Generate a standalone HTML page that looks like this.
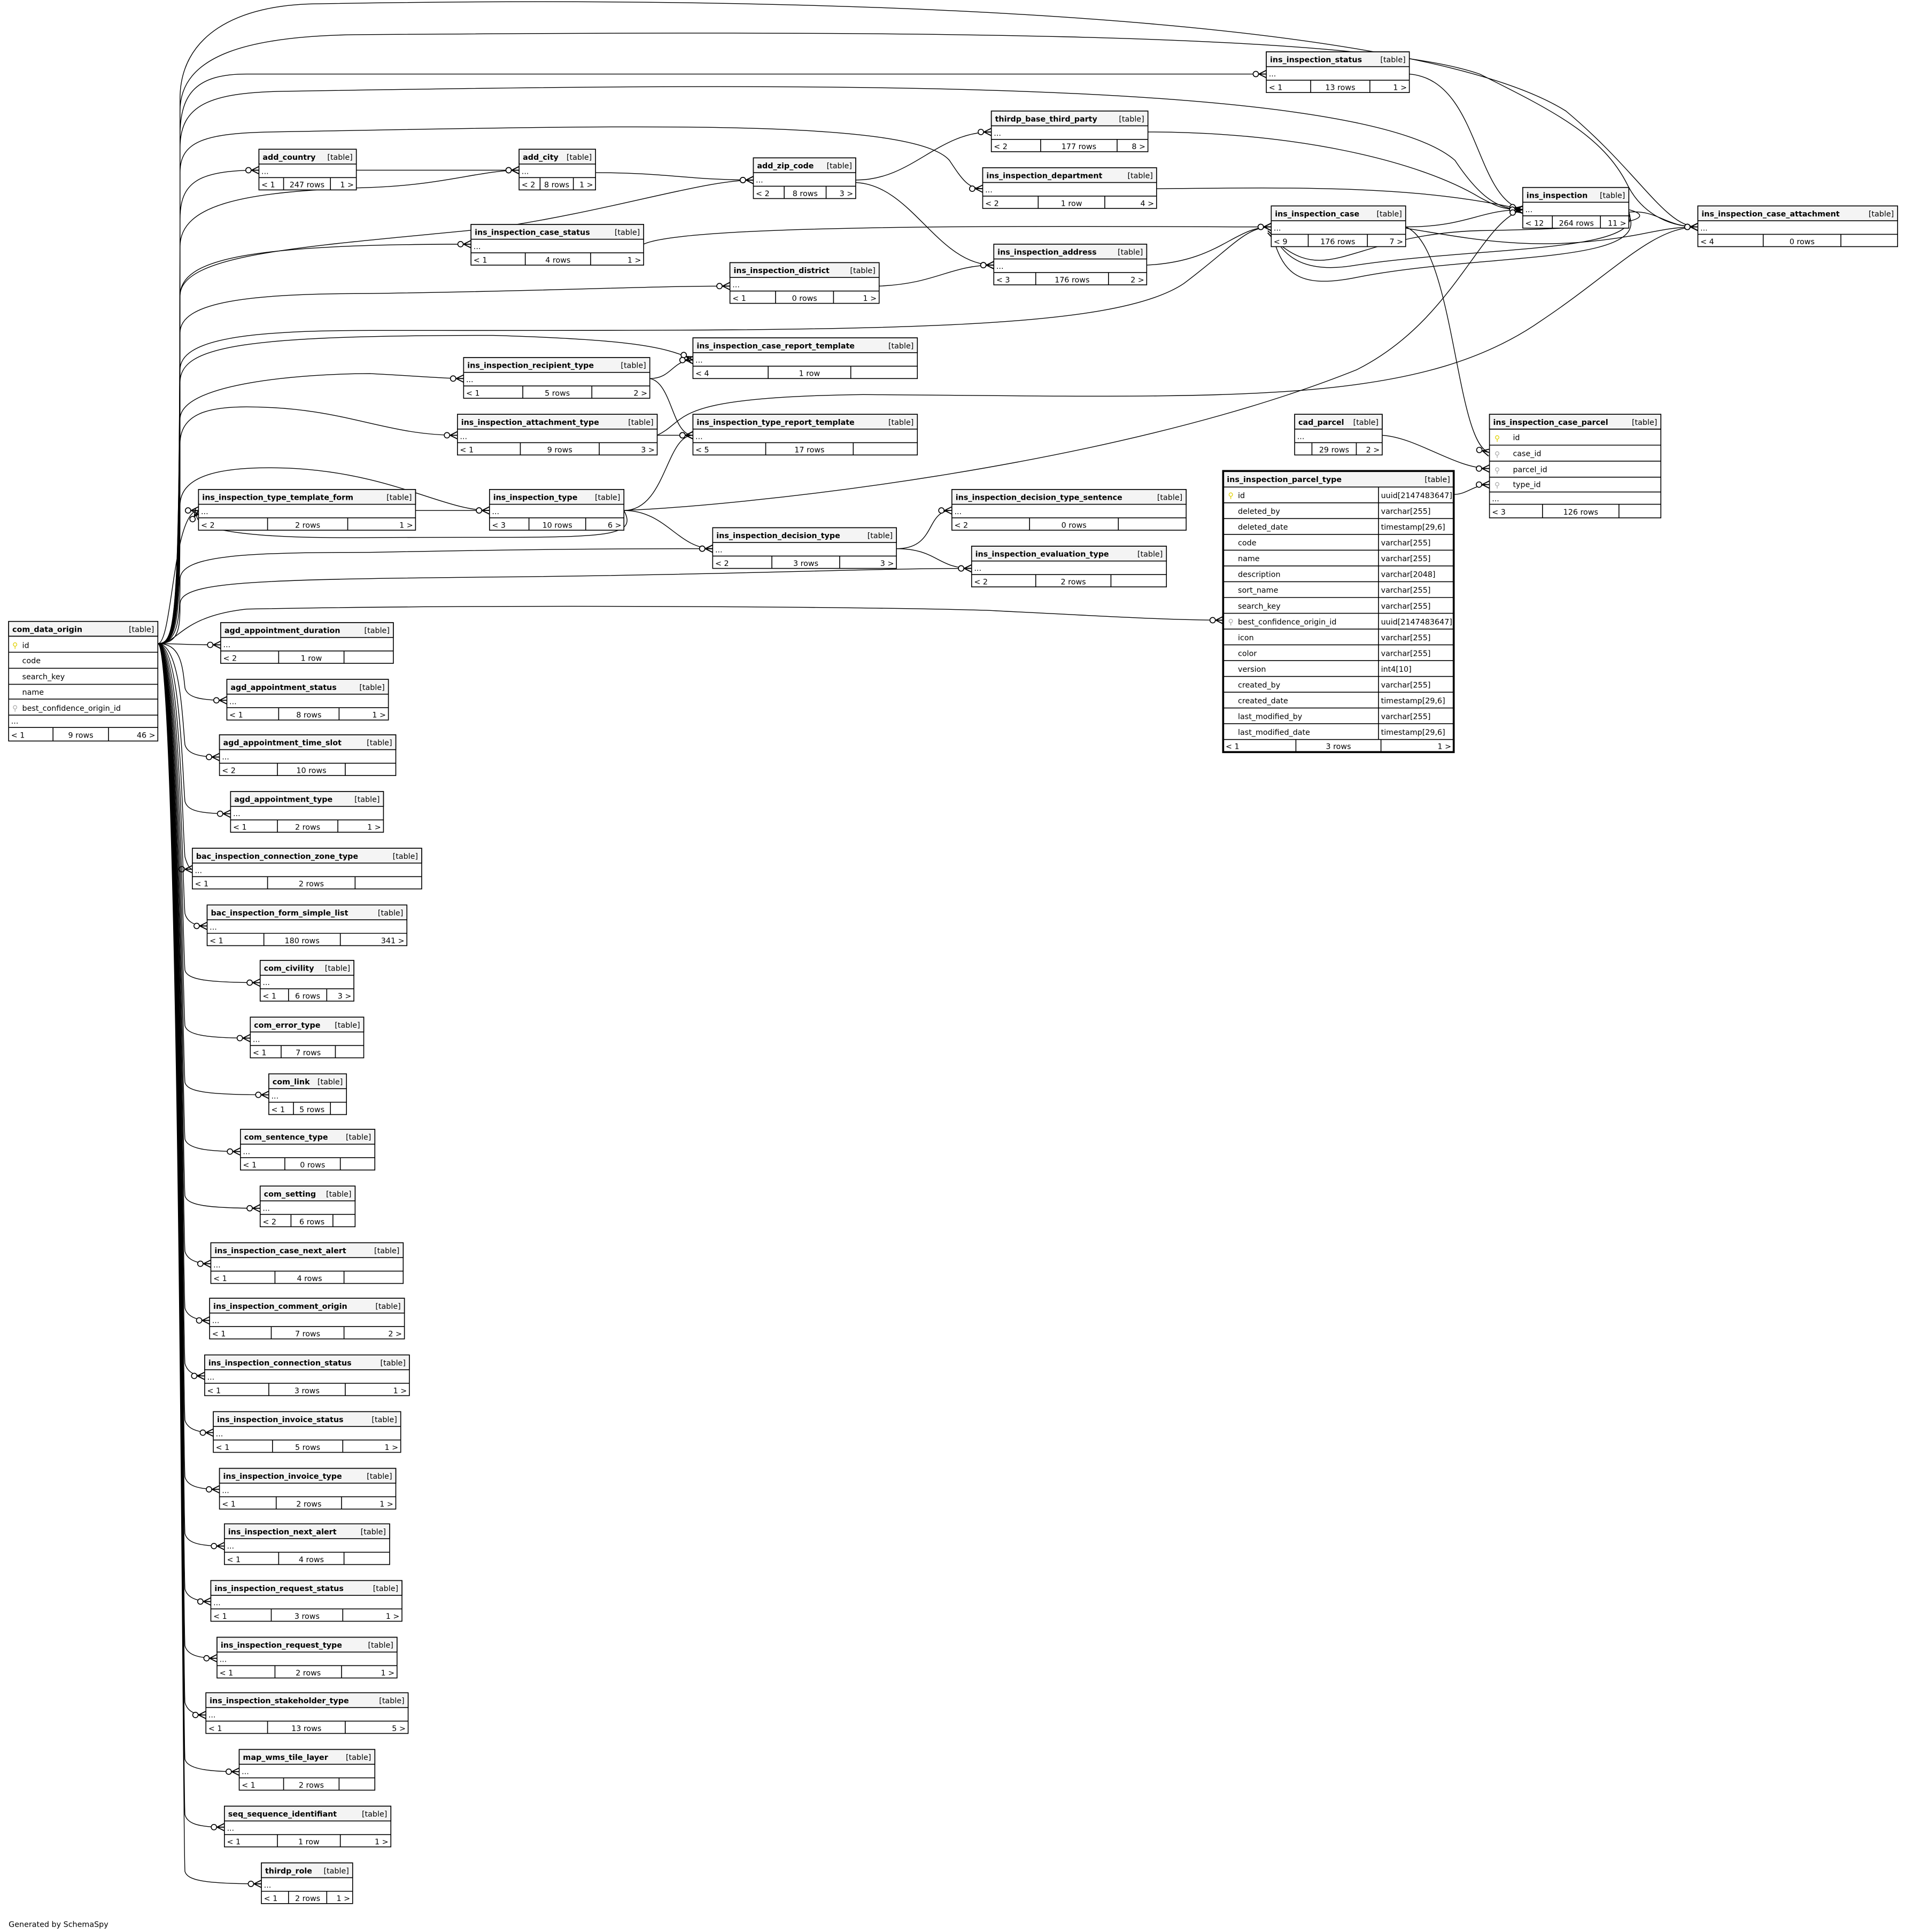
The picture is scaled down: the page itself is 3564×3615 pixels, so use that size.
<!DOCTYPE html>
<html><head><meta charset="utf-8"><style>
html,body{margin:0;padding:0;background:#fff}
svg{display:block}
text{font-family:"DejaVu Sans","Liberation Sans",sans-serif;font-size:6.2px;fill:#000}
.t{font-weight:bold}
.r{text-anchor:end}
.m{text-anchor:middle}
rect{fill:#fff;stroke:#000;stroke-width:.7}
rect.h{fill:#f4f4f4}
line{stroke:#000;stroke-width:.7}
path.e{fill:none;stroke:#000;stroke-width:.6;marker-end:url(#cf)}
</style></head><body>
<svg xmlns="http://www.w3.org/2000/svg" width="3564" height="3615" viewBox="0 0 1545 1567">
<defs>
<marker id="cf" markerUnits="userSpaceOnUse" markerWidth="14" markerHeight="10" viewBox="-12 -5 14 10" refX="0" refY="0" orient="auto" overflow="visible">
<circle cx="-8.5" cy="0" r="2.2" fill="#fff" stroke="#000" stroke-width=".7"/>
<path d="M-6 0L0 -3M-6 0L0 3M-6 0L0 0" stroke="#000" stroke-width=".8" fill="none"/>
</marker>
</defs>

<!-- edges from com_data_origin -->
<g>
<path class="e" d="M128 522C146 522 146 523 179 523"/>
<path class="e" d="M128 522C146 522 148 538 150 558C152 565 160 568 184 568"/>
<path class="e" d="M128 522C146 522 148 584 150 604C152 611 160 614 178 614"/>
<path class="e" d="M128 522C146 522 148 630 150 650C152 657 160 660 187 660"/>
<path class="e" d="M128 522C146 522 148 675 150 695C152 702 154 705 156 705"/>
<path class="e" d="M128 522C146 522 148 721 150 741C152 748 158 751 168 751"/>
<path class="e" d="M128 522C146 522 148 767 150 787C152 794 165 797 211 797"/>
<path class="e" d="M128 522C146 522 148 812 150 832C152 839 165 842 203 842"/>
<path class="e" d="M128 522C146 522 148 858 150 878C152 885 165 888 218 888"/>
<path class="e" d="M128 522C146 522 148 904 150 924C152 931 165 934 195 934"/>
<path class="e" d="M128 522C146 522 148 950 150 970C152 977 165 980 211 980"/>
<path class="e" d="M128 522C146 522 148 995 150 1015C152 1022 160 1025 171 1025"/>
<path class="e" d="M128 522C146 522 148 1041 150 1061C152 1068 160 1071 170 1071"/>
<path class="e" d="M128 522C146 522 148 1086 150 1106C152 1113 158 1116 166 1116"/>
<path class="e" d="M128 522C146 522 148 1132 150 1152C152 1159 160 1162 173 1162"/>
<path class="e" d="M128 522C146 522 148 1178 150 1198C152 1205 160 1208 178 1208"/>
<path class="e" d="M128 522C146 522 148 1224 150 1244C152 1251 160 1254 182 1254"/>
<path class="e" d="M128 522C146 522 148 1269 150 1289C152 1296 160 1299 171 1299"/>
<path class="e" d="M128 522C146 522 148 1315 150 1335C152 1342 160 1345 176 1345"/>
<path class="e" d="M128 522C146 522 148 1361 150 1381C152 1388 158 1391 167 1391"/>
<path class="e" d="M128 522C146 522 148 1407 150 1427C152 1434 165 1437 194 1437"/>
<path class="e" d="M128 522C146 522 148 1452 150 1472C152 1479 160 1482 182 1482"/>
<path class="e" d="M128 522C146 522 148 1498 150 1518C152 1525 165 1528 212 1528"/>
<!-- upward -->
<path class="e" d="M128 522C145 522 146 500 146 178C146 148 160 138 210 138"/>
<path class="e" d="M128 522C145 522 146 500 146 200C146 165 200 155 300 152C360 150 390 138 421 138"/>
<path class="e" d="M128 522C145 522 146 500 146 240C146 205 250 200 400 185C500 170 570 146 611 146"/>
<path class="e" d="M128 522C145 522 146 500 146 110C146 75 160 60 200 60L1027 60"/>
<path class="e" d="M128 522C145 522 146 500 146 140C146 115 165 108 220 107C500 102 740 95 770 130C780 145 785 153 797 153"/>
<path class="e" d="M128 522C145 522 146 500 146 120C146 85 170 75 230 74C600 68 1100 60 1180 130C1200 160 1215 170 1235 170"/>
<path class="e" d="M128 522C145 522 146 500 146 90C146 45 200 28 300 28C700 25 1100 25 1200 60C1260 90 1300 110 1320 150C1330 170 1350 184 1377 184"/>
<path class="e" d="M128 522C145 522 146 500 146 80C146 30 190 3 260 3C700 -5 1150 15 1270 90C1330 140 1350 184 1377 184"/>
<path class="e" d="M128 522C145 522 146 500 146 240C146 210 200 198 382 198"/>
<path class="e" d="M128 522C145 522 146 500 146 270C146 245 200 238 300 238C450 236 520 232 592 232"/>
<path class="e" d="M128 522C145 522 146 500 146 300C146 275 200 268 300 268C700 268 900 270 960 230C1000 200 1010 184 1031 184"/>
<path class="e" d="M128 522C145 522 146 500 146 310C146 280 200 272 400 272C500 275 540 280 562 292"/>
<path class="e" d="M128 522C145 522 146 500 146 340C146 310 250 303 300 303C340 305 360 307 376 307"/>
<path class="e" d="M128 522C145 522 146 500 146 360C146 335 170 330 200 330C280 330 310 353 371 353"/>
<path class="e" d="M128 522C140 522 140 414 161 414"/>
<path class="e" d="M128 522C145 522 146 500 146 410C146 385 180 377 240 380C320 385 360 414 397 414"/>
<path class="e" d="M128 522C145 522 146 500 146 470C146 450 200 448 300 448C450 445 520 445 578 445"/>
<path class="e" d="M128 522C145 522 146 510 146 490C146 472 200 470 400 468C600 466 700 461 788 461"/>
<path class="e" d="M128 522C145 522 146 500 200 494C400 490 700 492 800 495C900 500 950 503 992 503"/>
</g>

<!-- other edges -->
<g>
<path class="e" d="M289 138L421 138"/>
<path class="e" d="M483 140C540 140 560 146 611 146"/>
<path class="e" d="M694 146C740 146 760 107 804 107"/>
<path class="e" d="M694 148C740 150 760 215 806 215"/>
<path class="e" d="M931 107C1050 107 1150 130 1200 160C1215 168 1220 170 1235 170"/>
<path class="e" d="M938 153C1050 152 1150 150 1235 170"/>
<path class="e" d="M1143 60C1200 65 1195 160 1235 170"/>
<path class="e" d="M522 198C560 180 900 184 1031 184"/>
<path class="e" d="M930 215C990 212 1000 184 1031 184"/>
<path class="e" d="M713 232C760 230 770 215 806 215"/>
<path class="e" d="M1140 184C1190 184 1200 170 1235 170"/>
<path class="e" d="M1321 170C1340 175 1340 185 1200 187C1100 190 1080 230 1040 200C1035 195 1032 186 1031 186"/>
<path class="e" d="M1321 172C1335 205 1200 200 1100 215C1060 222 1040 210 1031 186"/>
<path class="e" d="M1321 174C1340 215 1200 205 1100 225C1050 235 1040 220 1031 188"/>
<path class="e" d="M1140 185C1200 195 1250 205 1330 190C1350 186 1360 184 1377 184"/>
<path class="e" d="M1321 172C1345 170 1350 184 1377 184"/>
<path class="e" d="M1140 184C1180 200 1180 360 1208 367"/>
<path class="e" d="M1121 353C1150 355 1180 380 1208 380"/>
<path class="e" d="M1179 401C1190 401 1195 393 1208 393"/>
<path class="e" d="M527 307C545 307 545 292 562 292"/>
<path class="e" d="M527 307C545 310 545 353 562 353"/>
<path class="e" d="M533 353L562 353"/>
<path class="e" d="M533 353C560 340 540 322 700 320C1000 322 1150 330 1250 260C1310 220 1340 184 1377 184"/>
<path class="e" d="M506 414C540 414 540 353 562 353"/>
<path class="e" d="M506 414C540 414 550 445 578 445"/>
<path class="e" d="M506 414C600 410 900 380 1100 300C1180 260 1200 180 1235 170"/>
<path class="e" d="M506 414C520 440 480 435 300 436C200 437 150 430 161 414"/>
<path class="e" d="M337 414L397 414"/>
<path class="e" d="M727 445C760 445 750 414 772 414"/>
<path class="e" d="M727 445C760 445 760 461 788 461"/>
</g>

<!-- tables -->
<g transform="translate(1027,42)"><rect width="116" height="33"/><rect class="h" width="116" height="12"/><line x1="0" y1="23" x2="116" y2="23"/><text class="t" x="3" y="8.5">ins_inspection_status</text><text class="r" x="113" y="8.5">[table]</text><text x="2" y="20">...</text><line x1="36" y1="23" x2="36" y2="33"/><line x1="84" y1="23" x2="84" y2="33"/><text x="2" y="31">&lt; 1</text><text class="m" x="60" y="31">13 rows</text><text class="r" x="114" y="31">1 &gt;</text></g>

<g transform="translate(804,90)"><rect width="127" height="33"/><rect class="h" width="127" height="12"/><line x1="0" y1="23" x2="127" y2="23"/><text class="t" x="3" y="8.5">thirdp_base_third_party</text><text class="r" x="124" y="8.5">[table]</text><text x="2" y="20">...</text><line x1="40" y1="23" x2="40" y2="33"/><line x1="102" y1="23" x2="102" y2="33"/><text x="2" y="31">&lt; 2</text><text class="m" x="71" y="31">177 rows</text><text class="r" x="125" y="31">8 &gt;</text></g>

<g transform="translate(210,121)"><rect width="79" height="33"/><rect class="h" width="79" height="12"/><line x1="0" y1="23" x2="79" y2="23"/><text class="t" x="3" y="8.5">add_country</text><text class="r" x="76" y="8.5">[table]</text><text x="2" y="20">...</text><line x1="20" y1="23" x2="20" y2="33"/><line x1="58" y1="23" x2="58" y2="33"/><text x="2" y="31">&lt; 1</text><text class="m" x="39" y="31">247 rows</text><text class="r" x="77" y="31">1 &gt;</text></g>

<g transform="translate(421,121)"><rect width="62" height="33"/><rect class="h" width="62" height="12"/><line x1="0" y1="23" x2="62" y2="23"/><text class="t" x="3" y="8.5">add_city</text><text class="r" x="59" y="8.5">[table]</text><text x="2" y="20">...</text><line x1="17" y1="23" x2="17" y2="33"/><line x1="44" y1="23" x2="44" y2="33"/><text x="2" y="31">&lt; 2</text><text class="m" x="30.5" y="31">8 rows</text><text class="r" x="60" y="31">1 &gt;</text></g>

<g transform="translate(611,128)"><rect width="83" height="33"/><rect class="h" width="83" height="12"/><line x1="0" y1="23" x2="83" y2="23"/><text class="t" x="3" y="8.5">add_zip_code</text><text class="r" x="80" y="8.5">[table]</text><text x="2" y="20">...</text><line x1="25" y1="23" x2="25" y2="33"/><line x1="59" y1="23" x2="59" y2="33"/><text x="2" y="31">&lt; 2</text><text class="m" x="42" y="31">8 rows</text><text class="r" x="81" y="31">3 &gt;</text></g>

<g transform="translate(797,136)"><rect width="141" height="33"/><rect class="h" width="141" height="12"/><line x1="0" y1="23" x2="141" y2="23"/><text class="t" x="3" y="8.5">ins_inspection_department</text><text class="r" x="138" y="8.5">[table]</text><text x="2" y="20">...</text><line x1="45" y1="23" x2="45" y2="33"/><line x1="99" y1="23" x2="99" y2="33"/><text x="2" y="31">&lt; 2</text><text class="m" x="72" y="31">1 row</text><text class="r" x="139" y="31">4 &gt;</text></g>

<g transform="translate(1235,152)"><rect width="86" height="33"/><rect class="h" width="86" height="12"/><line x1="0" y1="23" x2="86" y2="23"/><text class="t" x="3" y="8.5">ins_inspection</text><text class="r" x="83" y="8.5">[table]</text><text x="2" y="20">...</text><line x1="24" y1="23" x2="24" y2="33"/><line x1="63" y1="23" x2="63" y2="33"/><text x="2" y="31">&lt; 12</text><text class="m" x="43.5" y="31">264 rows</text><text class="r" x="84" y="31">11 &gt;</text></g>

<g transform="translate(1031,167)"><rect width="109" height="33"/><rect class="h" width="109" height="12"/><line x1="0" y1="23" x2="109" y2="23"/><text class="t" x="3" y="8.5">ins_inspection_case</text><text class="r" x="106" y="8.5">[table]</text><text x="2" y="20">...</text><line x1="30" y1="23" x2="30" y2="33"/><line x1="78" y1="23" x2="78" y2="33"/><text x="2" y="31">&lt; 9</text><text class="m" x="54" y="31">176 rows</text><text class="r" x="107" y="31">7 &gt;</text></g>

<g transform="translate(1377,167)"><rect width="162" height="33"/><rect class="h" width="162" height="12"/><line x1="0" y1="23" x2="162" y2="23"/><text class="t" x="3" y="8.5">ins_inspection_case_attachment</text><text class="r" x="159" y="8.5">[table]</text><text x="2" y="20">...</text><line x1="53" y1="23" x2="53" y2="33"/><line x1="116" y1="23" x2="116" y2="33"/><text x="2" y="31">&lt; 4</text><text class="m" x="84.5" y="31">0 rows</text></g>

<g transform="translate(382,182)"><rect width="140" height="33"/><rect class="h" width="140" height="12"/><line x1="0" y1="23" x2="140" y2="23"/><text class="t" x="3" y="8.5">ins_inspection_case_status</text><text class="r" x="137" y="8.5">[table]</text><text x="2" y="20">...</text><line x1="44" y1="23" x2="44" y2="33"/><line x1="97" y1="23" x2="97" y2="33"/><text x="2" y="31">&lt; 1</text><text class="m" x="70.5" y="31">4 rows</text><text class="r" x="138" y="31">1 &gt;</text></g>

<g transform="translate(806,198)"><rect width="124" height="33"/><rect class="h" width="124" height="12"/><line x1="0" y1="23" x2="124" y2="23"/><text class="t" x="3" y="8.5">ins_inspection_address</text><text class="r" x="121" y="8.5">[table]</text><text x="2" y="20">...</text><line x1="34" y1="23" x2="34" y2="33"/><line x1="93" y1="23" x2="93" y2="33"/><text x="2" y="31">&lt; 3</text><text class="m" x="63.5" y="31">176 rows</text><text class="r" x="122" y="31">2 &gt;</text></g>

<g transform="translate(592,213)"><rect width="121" height="33"/><rect class="h" width="121" height="12"/><line x1="0" y1="23" x2="121" y2="23"/><text class="t" x="3" y="8.5">ins_inspection_district</text><text class="r" x="118" y="8.5">[table]</text><text x="2" y="20">...</text><line x1="37" y1="23" x2="37" y2="33"/><line x1="84" y1="23" x2="84" y2="33"/><text x="2" y="31">&lt; 1</text><text class="m" x="60.5" y="31">0 rows</text><text class="r" x="119" y="31">1 &gt;</text></g>

<g transform="translate(562,274)"><rect width="182" height="33"/><rect class="h" width="182" height="12"/><line x1="0" y1="23" x2="182" y2="23"/><text class="t" x="3" y="8.5">ins_inspection_case_report_template</text><text class="r" x="179" y="8.5">[table]</text><text x="2" y="20">...</text><line x1="61" y1="23" x2="61" y2="33"/><line x1="128" y1="23" x2="128" y2="33"/><text x="2" y="31">&lt; 4</text><text class="m" x="94.5" y="31">1 row</text></g>

<g transform="translate(376,290)"><rect width="151" height="33"/><rect class="h" width="151" height="12"/><line x1="0" y1="23" x2="151" y2="23"/><text class="t" x="3" y="8.5">ins_inspection_recipient_type</text><text class="r" x="148" y="8.5">[table]</text><text x="2" y="20">...</text><line x1="48" y1="23" x2="48" y2="33"/><line x1="104" y1="23" x2="104" y2="33"/><text x="2" y="31">&lt; 1</text><text class="m" x="76" y="31">5 rows</text><text class="r" x="149" y="31">2 &gt;</text></g>

<g transform="translate(562,336)"><rect width="182" height="33"/><rect class="h" width="182" height="12"/><line x1="0" y1="23" x2="182" y2="23"/><text class="t" x="3" y="8.5">ins_inspection_type_report_template</text><text class="r" x="179" y="8.5">[table]</text><text x="2" y="20">...</text><line x1="59" y1="23" x2="59" y2="33"/><line x1="130" y1="23" x2="130" y2="33"/><text x="2" y="31">&lt; 5</text><text class="m" x="94.5" y="31">17 rows</text></g>

<g transform="translate(371,336)"><rect width="162" height="33"/><rect class="h" width="162" height="12"/><line x1="0" y1="23" x2="162" y2="23"/><text class="t" x="3" y="8.5">ins_inspection_attachment_type</text><text class="r" x="159" y="8.5">[table]</text><text x="2" y="20">...</text><line x1="51" y1="23" x2="51" y2="33"/><line x1="115" y1="23" x2="115" y2="33"/><text x="2" y="31">&lt; 1</text><text class="m" x="83" y="31">9 rows</text><text class="r" x="160" y="31">3 &gt;</text></g>

<g transform="translate(1050,336)"><rect width="71" height="33"/><rect class="h" width="71" height="12"/><line x1="0" y1="23" x2="71" y2="23"/><text class="t" x="3" y="8.5">cad_parcel</text><text class="r" x="68" y="8.5">[table]</text><text x="2" y="20">...</text><line x1="14" y1="23" x2="14" y2="33"/><line x1="50" y1="23" x2="50" y2="33"/><text class="m" x="32" y="31">29 rows</text><text class="r" x="69" y="31">2 &gt;</text></g>

<g transform="translate(1208,336)"><rect width="139" height="84"/><rect class="h" width="139" height="12"/>
<line x1="0" y1="12" x2="139" y2="12"/><line x1="0" y1="25" x2="139" y2="25"/><line x1="0" y1="38" x2="139" y2="38"/><line x1="0" y1="51" x2="139" y2="51"/><line x1="0" y1="63" x2="139" y2="63"/><line x1="0" y1="73" x2="139" y2="73"/>
<text class="t" x="3" y="8.5">ins_inspection_case_parcel</text><text class="r" x="136" y="8.5">[table]</text>
<text x="4" y="21.5" style="fill:#e0d000">⚲</text><text x="19" y="21">id</text>
<text x="4" y="34.5" style="fill:#aaa">⚲</text><text x="19" y="34">case_id</text>
<text x="4" y="47.5" style="fill:#aaa">⚲</text><text x="19" y="47">parcel_id</text>
<text x="4" y="59.5" style="fill:#aaa">⚲</text><text x="19" y="59">type_id</text>
<text x="2" y="70.5">...</text>
<line x1="43" y1="73" x2="43" y2="84"/><line x1="105" y1="73" x2="105" y2="84"/><text x="2" y="81.5">&lt; 3</text><text class="m" x="74" y="81.5">126 rows</text></g>

<g transform="translate(992,382)"><rect width="187" height="228" style="stroke-width:1.6"/><rect class="h" x="1" y="1" width="185" height="12" style="stroke:none"/>
<line x1="0" y1="13" x2="187" y2="13"/>
<line x1="0" y1="25.8" x2="187" y2="25.8"/><line x1="0" y1="38.6" x2="187" y2="38.6"/><line x1="0" y1="51.4" x2="187" y2="51.4"/><line x1="0" y1="64.2" x2="187" y2="64.2"/><line x1="0" y1="77" x2="187" y2="77"/><line x1="0" y1="89.8" x2="187" y2="89.8"/><line x1="0" y1="102.6" x2="187" y2="102.6"/><line x1="0" y1="115.4" x2="187" y2="115.4"/><line x1="0" y1="128.2" x2="187" y2="128.2"/><line x1="0" y1="141" x2="187" y2="141"/><line x1="0" y1="153.8" x2="187" y2="153.8"/><line x1="0" y1="166.6" x2="187" y2="166.6"/><line x1="0" y1="179.4" x2="187" y2="179.4"/><line x1="0" y1="192.2" x2="187" y2="192.2"/><line x1="0" y1="205" x2="187" y2="205"/><line x1="0" y1="217.8" x2="187" y2="217.8"/>
<line x1="126" y1="13" x2="126" y2="217.8"/>
<line x1="59" y1="217.8" x2="59" y2="228"/><line x1="128" y1="217.8" x2="128" y2="228"/>
<text class="t" x="3" y="9">ins_inspection_parcel_type</text><text class="r" x="184" y="9">[table]</text>
<text x="4" y="22" style="fill:#e0d000">⚲</text><text x="12" y="22">id</text><text x="128" y="22">uuid[2147483647]</text>
<text x="12" y="34.8">deleted_by</text><text x="128" y="34.8">varchar[255]</text>
<text x="12" y="47.6">deleted_date</text><text x="128" y="47.6">timestamp[29,6]</text>
<text x="12" y="60.4">code</text><text x="128" y="60.4">varchar[255]</text>
<text x="12" y="73.2">name</text><text x="128" y="73.2">varchar[255]</text>
<text x="12" y="86">description</text><text x="128" y="86">varchar[2048]</text>
<text x="12" y="98.8">sort_name</text><text x="128" y="98.8">varchar[255]</text>
<text x="12" y="111.6">search_key</text><text x="128" y="111.6">varchar[255]</text>
<text x="4" y="124.4" style="fill:#aaa">⚲</text><text x="12" y="124.4">best_confidence_origin_id</text><text x="128" y="124.4">uuid[2147483647]</text>
<text x="12" y="137.2">icon</text><text x="128" y="137.2">varchar[255]</text>
<text x="12" y="150">color</text><text x="128" y="150">varchar[255]</text>
<text x="12" y="162.8">version</text><text x="128" y="162.8">int4[10]</text>
<text x="12" y="175.6">created_by</text><text x="128" y="175.6">varchar[255]</text>
<text x="12" y="188.4">created_date</text><text x="128" y="188.4">timestamp[29,6]</text>
<text x="12" y="201.2">last_modified_by</text><text x="128" y="201.2">varchar[255]</text>
<text x="12" y="214">last_modified_date</text><text x="128" y="214">timestamp[29,6]</text>
<text x="2" y="225.5">&lt; 1</text><text class="m" x="93.5" y="225.5">3 rows</text><text class="r" x="185" y="225.5">1 &gt;</text></g>

<g transform="translate(161,397)"><rect width="176" height="33"/><rect class="h" width="176" height="12"/><line x1="0" y1="23" x2="176" y2="23"/><text class="t" x="3" y="8.5">ins_inspection_type_template_form</text><text class="r" x="173" y="8.5">[table]</text><text x="2" y="20">...</text><line x1="56" y1="23" x2="56" y2="33"/><line x1="121" y1="23" x2="121" y2="33"/><text x="2" y="31">&lt; 2</text><text class="m" x="88.5" y="31">2 rows</text><text class="r" x="174" y="31">1 &gt;</text></g>

<g transform="translate(397,397)"><rect width="109" height="33"/><rect class="h" width="109" height="12"/><line x1="0" y1="23" x2="109" y2="23"/><text class="t" x="3" y="8.5">ins_inspection_type</text><text class="r" x="106" y="8.5">[table]</text><text x="2" y="20">...</text><line x1="32" y1="23" x2="32" y2="33"/><line x1="78" y1="23" x2="78" y2="33"/><text x="2" y="31">&lt; 3</text><text class="m" x="55" y="31">10 rows</text><text class="r" x="107" y="31">6 &gt;</text></g>

<g transform="translate(772,397)"><rect width="190" height="33"/><rect class="h" width="190" height="12"/><line x1="0" y1="23" x2="190" y2="23"/><text class="t" x="3" y="8.5">ins_inspection_decision_type_sentence</text><text class="r" x="187" y="8.5">[table]</text><text x="2" y="20">...</text><line x1="63" y1="23" x2="63" y2="33"/><line x1="135" y1="23" x2="135" y2="33"/><text x="2" y="31">&lt; 2</text><text class="m" x="99" y="31">0 rows</text></g>

<g transform="translate(578,428)"><rect width="149" height="33"/><rect class="h" width="149" height="12"/><line x1="0" y1="23" x2="149" y2="23"/><text class="t" x="3" y="8.5">ins_inspection_decision_type</text><text class="r" x="146" y="8.5">[table]</text><text x="2" y="20">...</text><line x1="48" y1="23" x2="48" y2="33"/><line x1="103" y1="23" x2="103" y2="33"/><text x="2" y="31">&lt; 2</text><text class="m" x="75.5" y="31">3 rows</text><text class="r" x="147" y="31">3 &gt;</text></g>

<g transform="translate(788,443)"><rect width="158" height="33"/><rect class="h" width="158" height="12"/><line x1="0" y1="23" x2="158" y2="23"/><text class="t" x="3" y="8.5">ins_inspection_evaluation_type</text><text class="r" x="155" y="8.5">[table]</text><text x="2" y="20">...</text><line x1="52" y1="23" x2="52" y2="33"/><line x1="113" y1="23" x2="113" y2="33"/><text x="2" y="31">&lt; 2</text><text class="m" x="82.5" y="31">2 rows</text></g>

<!-- com_data_origin -->
<g transform="translate(7,504)"><rect width="121" height="97"/><rect class="h" width="121" height="12"/>
<line x1="0" y1="12" x2="121" y2="12"/><line x1="0" y1="25" x2="121" y2="25"/><line x1="0" y1="38" x2="121" y2="38"/><line x1="0" y1="51" x2="121" y2="51"/><line x1="0" y1="63" x2="121" y2="63"/><line x1="0" y1="76" x2="121" y2="76"/><line x1="0" y1="86" x2="121" y2="86"/>
<text class="t" x="3" y="8.5">com_data_origin</text><text class="r" x="118" y="8.5">[table]</text>
<text x="3" y="21.5" style="fill:#e0d000">⚲</text><text x="11" y="21.5">id</text>
<text x="11" y="34">code</text><text x="11" y="47">search_key</text><text x="11" y="59.5">name</text>
<text x="3" y="72.5" style="fill:#aaa">⚲</text><text x="11" y="72.5">best_confidence_origin_id</text>
<text x="2" y="83">...</text>
<line x1="36" y1="86" x2="36" y2="97"/><line x1="81" y1="86" x2="81" y2="97"/><text x="2" y="94.5">&lt; 1</text><text class="m" x="58.5" y="94.5">9 rows</text><text class="r" x="119" y="94.5">46 &gt;</text></g>

<!-- left column tables -->
<g transform="translate(179,505)"><rect width="140" height="33"/><rect class="h" width="140" height="12"/><line x1="0" y1="23" x2="140" y2="23"/><text class="t" x="3" y="8.5">agd_appointment_duration</text><text class="r" x="137" y="8.5">[table]</text><text x="2" y="20">...</text><line x1="47" y1="23" x2="47" y2="33"/><line x1="100" y1="23" x2="100" y2="33"/><text x="2" y="31">&lt; 2</text><text class="m" x="73.5" y="31">1 row</text></g>

<g transform="translate(184,551)"><rect width="131" height="33"/><rect class="h" width="131" height="12"/><line x1="0" y1="23" x2="131" y2="23"/><text class="t" x="3" y="8.5">agd_appointment_status</text><text class="r" x="128" y="8.5">[table]</text><text x="2" y="20">...</text><line x1="42" y1="23" x2="42" y2="33"/><line x1="91" y1="23" x2="91" y2="33"/><text x="2" y="31">&lt; 1</text><text class="m" x="66.5" y="31">8 rows</text><text class="r" x="129" y="31">1 &gt;</text></g>

<g transform="translate(178,596)"><rect width="143" height="33"/><rect class="h" width="143" height="12"/><line x1="0" y1="23" x2="143" y2="23"/><text class="t" x="3" y="8.5">agd_appointment_time_slot</text><text class="r" x="140" y="8.5">[table]</text><text x="2" y="20">...</text><line x1="47" y1="23" x2="47" y2="33"/><line x1="102" y1="23" x2="102" y2="33"/><text x="2" y="31">&lt; 2</text><text class="m" x="74.5" y="31">10 rows</text></g>

<g transform="translate(187,642)"><rect width="124" height="33"/><rect class="h" width="124" height="12"/><line x1="0" y1="23" x2="124" y2="23"/><text class="t" x="3" y="8.5">agd_appointment_type</text><text class="r" x="121" y="8.5">[table]</text><text x="2" y="20">...</text><line x1="38" y1="23" x2="38" y2="33"/><line x1="87" y1="23" x2="87" y2="33"/><text x="2" y="31">&lt; 1</text><text class="m" x="62.5" y="31">2 rows</text><text class="r" x="122" y="31">1 &gt;</text></g>

<g transform="translate(156,688)"><rect width="186" height="33"/><rect class="h" width="186" height="12"/><line x1="0" y1="23" x2="186" y2="23"/><text class="t" x="3" y="8.5">bac_inspection_connection_zone_type</text><text class="r" x="183" y="8.5">[table]</text><text x="2" y="20">...</text><line x1="61" y1="23" x2="61" y2="33"/><line x1="132" y1="23" x2="132" y2="33"/><text x="2" y="31">&lt; 1</text><text class="m" x="96.5" y="31">2 rows</text></g>

<g transform="translate(168,734)"><rect width="162" height="33"/><rect class="h" width="162" height="12"/><line x1="0" y1="23" x2="162" y2="23"/><text class="t" x="3" y="8.5">bac_inspection_form_simple_list</text><text class="r" x="159" y="8.5">[table]</text><text x="2" y="20">...</text><line x1="46" y1="23" x2="46" y2="33"/><line x1="108" y1="23" x2="108" y2="33"/><text x="2" y="31">&lt; 1</text><text class="m" x="77" y="31">180 rows</text><text class="r" x="160" y="31">341 &gt;</text></g>

<g transform="translate(211,779)"><rect width="76" height="33"/><rect class="h" width="76" height="12"/><line x1="0" y1="23" x2="76" y2="23"/><text class="t" x="3" y="8.5">com_civility</text><text class="r" x="73" y="8.5">[table]</text><text x="2" y="20">...</text><line x1="23" y1="23" x2="23" y2="33"/><line x1="54" y1="23" x2="54" y2="33"/><text x="2" y="31">&lt; 1</text><text class="m" x="38.5" y="31">6 rows</text><text class="r" x="74" y="31">3 &gt;</text></g>

<g transform="translate(203,825)"><rect width="92" height="33"/><rect class="h" width="92" height="12"/><line x1="0" y1="23" x2="92" y2="23"/><text class="t" x="3" y="8.5">com_error_type</text><text class="r" x="89" y="8.5">[table]</text><text x="2" y="20">...</text><line x1="25" y1="23" x2="25" y2="33"/><line x1="69" y1="23" x2="69" y2="33"/><text x="2" y="31">&lt; 1</text><text class="m" x="47" y="31">7 rows</text></g>

<g transform="translate(218,871)"><rect width="63" height="33"/><rect class="h" width="63" height="12"/><line x1="0" y1="23" x2="63" y2="23"/><text class="t" x="3" y="8.5">com_link</text><text class="r" x="60" y="8.5">[table]</text><text x="2" y="20">...</text><line x1="20" y1="23" x2="20" y2="33"/><line x1="50" y1="23" x2="50" y2="33"/><text x="2" y="31">&lt; 1</text><text class="m" x="35" y="31">5 rows</text></g>

<g transform="translate(195,916)"><rect width="109" height="33"/><rect class="h" width="109" height="12"/><line x1="0" y1="23" x2="109" y2="23"/><text class="t" x="3" y="8.5">com_sentence_type</text><text class="r" x="106" y="8.5">[table]</text><text x="2" y="20">...</text><line x1="36" y1="23" x2="36" y2="33"/><line x1="81" y1="23" x2="81" y2="33"/><text x="2" y="31">&lt; 1</text><text class="m" x="58.5" y="31">0 rows</text></g>

<g transform="translate(211,962)"><rect width="77" height="33"/><rect class="h" width="77" height="12"/><line x1="0" y1="23" x2="77" y2="23"/><text class="t" x="3" y="8.5">com_setting</text><text class="r" x="74" y="8.5">[table]</text><text x="2" y="20">...</text><line x1="25" y1="23" x2="25" y2="33"/><line x1="59" y1="23" x2="59" y2="33"/><text x="2" y="31">&lt; 2</text><text class="m" x="42" y="31">6 rows</text></g>

<g transform="translate(171,1008)"><rect width="156" height="33"/><rect class="h" width="156" height="12"/><line x1="0" y1="23" x2="156" y2="23"/><text class="t" x="3" y="8.5">ins_inspection_case_next_alert</text><text class="r" x="153" y="8.5">[table]</text><text x="2" y="20">...</text><line x1="52" y1="23" x2="52" y2="33"/><line x1="108" y1="23" x2="108" y2="33"/><text x="2" y="31">&lt; 1</text><text class="m" x="80" y="31">4 rows</text></g>

<g transform="translate(170,1053)"><rect width="158" height="33"/><rect class="h" width="158" height="12"/><line x1="0" y1="23" x2="158" y2="23"/><text class="t" x="3" y="8.5">ins_inspection_comment_origin</text><text class="r" x="155" y="8.5">[table]</text><text x="2" y="20">...</text><line x1="50" y1="23" x2="50" y2="33"/><line x1="109" y1="23" x2="109" y2="33"/><text x="2" y="31">&lt; 1</text><text class="m" x="79.5" y="31">7 rows</text><text class="r" x="156" y="31">2 &gt;</text></g>

<g transform="translate(166,1099)"><rect width="166" height="33"/><rect class="h" width="166" height="12"/><line x1="0" y1="23" x2="166" y2="23"/><text class="t" x="3" y="8.5">ins_inspection_connection_status</text><text class="r" x="163" y="8.5">[table]</text><text x="2" y="20">...</text><line x1="52" y1="23" x2="52" y2="33"/><line x1="114" y1="23" x2="114" y2="33"/><text x="2" y="31">&lt; 1</text><text class="m" x="83" y="31">3 rows</text><text class="r" x="164" y="31">1 &gt;</text></g>

<g transform="translate(173,1145)"><rect width="152" height="33"/><rect class="h" width="152" height="12"/><line x1="0" y1="23" x2="152" y2="23"/><text class="t" x="3" y="8.5">ins_inspection_invoice_status</text><text class="r" x="149" y="8.5">[table]</text><text x="2" y="20">...</text><line x1="48" y1="23" x2="48" y2="33"/><line x1="105" y1="23" x2="105" y2="33"/><text x="2" y="31">&lt; 1</text><text class="m" x="76.5" y="31">5 rows</text><text class="r" x="150" y="31">1 &gt;</text></g>

<g transform="translate(178,1191)"><rect width="143" height="33"/><rect class="h" width="143" height="12"/><line x1="0" y1="23" x2="143" y2="23"/><text class="t" x="3" y="8.5">ins_inspection_invoice_type</text><text class="r" x="140" y="8.5">[table]</text><text x="2" y="20">...</text><line x1="46" y1="23" x2="46" y2="33"/><line x1="99" y1="23" x2="99" y2="33"/><text x="2" y="31">&lt; 1</text><text class="m" x="72.5" y="31">2 rows</text><text class="r" x="141" y="31">1 &gt;</text></g>

<g transform="translate(182,1236)"><rect width="134" height="33"/><rect class="h" width="134" height="12"/><line x1="0" y1="23" x2="134" y2="23"/><text class="t" x="3" y="8.5">ins_inspection_next_alert</text><text class="r" x="131" y="8.5">[table]</text><text x="2" y="20">...</text><line x1="44" y1="23" x2="44" y2="33"/><line x1="97" y1="23" x2="97" y2="33"/><text x="2" y="31">&lt; 1</text><text class="m" x="70.5" y="31">4 rows</text></g>

<g transform="translate(171,1282)"><rect width="155" height="33"/><rect class="h" width="155" height="12"/><line x1="0" y1="23" x2="155" y2="23"/><text class="t" x="3" y="8.5">ins_inspection_request_status</text><text class="r" x="152" y="8.5">[table]</text><text x="2" y="20">...</text><line x1="49" y1="23" x2="49" y2="33"/><line x1="107" y1="23" x2="107" y2="33"/><text x="2" y="31">&lt; 1</text><text class="m" x="78" y="31">3 rows</text><text class="r" x="153" y="31">1 &gt;</text></g>

<g transform="translate(176,1328)"><rect width="146" height="33"/><rect class="h" width="146" height="12"/><line x1="0" y1="23" x2="146" y2="23"/><text class="t" x="3" y="8.5">ins_inspection_request_type</text><text class="r" x="143" y="8.5">[table]</text><text x="2" y="20">...</text><line x1="47" y1="23" x2="47" y2="33"/><line x1="101" y1="23" x2="101" y2="33"/><text x="2" y="31">&lt; 1</text><text class="m" x="74" y="31">2 rows</text><text class="r" x="144" y="31">1 &gt;</text></g>

<g transform="translate(167,1373)"><rect width="164" height="33"/><rect class="h" width="164" height="12"/><line x1="0" y1="23" x2="164" y2="23"/><text class="t" x="3" y="8.5">ins_inspection_stakeholder_type</text><text class="r" x="161" y="8.5">[table]</text><text x="2" y="20">...</text><line x1="50" y1="23" x2="50" y2="33"/><line x1="113" y1="23" x2="113" y2="33"/><text x="2" y="31">&lt; 1</text><text class="m" x="81.5" y="31">13 rows</text><text class="r" x="162" y="31">5 &gt;</text></g>

<g transform="translate(194,1419)"><rect width="110" height="33"/><rect class="h" width="110" height="12"/><line x1="0" y1="23" x2="110" y2="23"/><text class="t" x="3" y="8.5">map_wms_tile_layer</text><text class="r" x="107" y="8.5">[table]</text><text x="2" y="20">...</text><line x1="36" y1="23" x2="36" y2="33"/><line x1="81" y1="23" x2="81" y2="33"/><text x="2" y="31">&lt; 1</text><text class="m" x="58.5" y="31">2 rows</text></g>

<g transform="translate(182,1465)"><rect width="135" height="33"/><rect class="h" width="135" height="12"/><line x1="0" y1="23" x2="135" y2="23"/><text class="t" x="3" y="8.5">seq_sequence_identifiant</text><text class="r" x="132" y="8.5">[table]</text><text x="2" y="20">...</text><line x1="43" y1="23" x2="43" y2="33"/><line x1="94" y1="23" x2="94" y2="33"/><text x="2" y="31">&lt; 1</text><text class="m" x="68.5" y="31">1 row</text><text class="r" x="133" y="31">1 &gt;</text></g>

<g transform="translate(212,1511)"><rect width="74" height="33"/><rect class="h" width="74" height="12"/><line x1="0" y1="23" x2="74" y2="23"/><text class="t" x="3" y="8.5">thirdp_role</text><text class="r" x="71" y="8.5">[table]</text><text x="2" y="20">...</text><line x1="22" y1="23" x2="22" y2="33"/><line x1="53" y1="23" x2="53" y2="33"/><text x="2" y="31">&lt; 1</text><text class="m" x="37.5" y="31">2 rows</text><text class="r" x="72" y="31">1 &gt;</text></g>

<text x="7" y="1563">Generated by SchemaSpy</text>
</svg>
</body></html>
